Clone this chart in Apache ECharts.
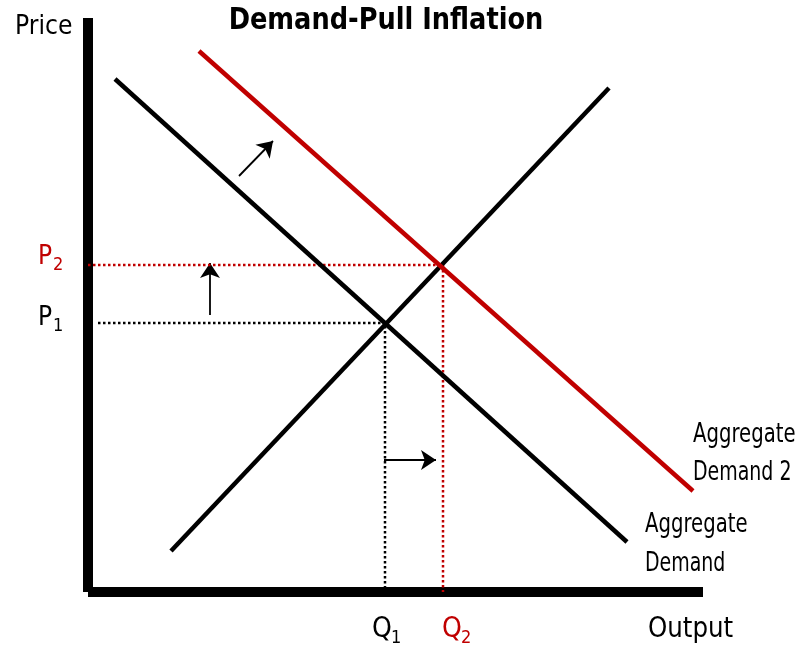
<!DOCTYPE html>
<html>
<head>
<meta charset="utf-8">
<script src="https://cdn.jsdelivr.net/npm/echarts@6/dist/echarts.min.js"></script>
<style>html,body{margin:0;padding:0;background:#fff}#c{width:808px;height:653px}</style>
</head>
<body>
<div id="c"></div>
<script>
// Abstract units: output (x) and price (y)
const aggregateDemand = [[27, 513], [539, 50]];
const aggregateDemand2 = [[111, 541], [605, 101]];
const aggregateSupply = [[83, 41], [521, 504]];
const priceLevels = [269, 327];      // P1, P2
const outputLevels = [297, 355];     // Q1, Q2
const p1Guide = [[10, priceLevels[0]], [outputLevels[0], priceLevels[0]], [outputLevels[0], 0]];
const p2Guide = [[0, priceLevels[1]], [outputLevels[1], priceLevels[1]], [outputLevels[1], 0]];
const shiftArrow = [[151, 416], [185, 451]];
const priceArrow = [[122, 277], [122, 329]];
const outputArrow = [[296, 132], [348, 132]];

const RED = '#c00000';
const FONT = "'Liberation Sans Narrow', 'DejaVu Sans Condensed', 'Noto Sans', sans-serif";

const chart = echarts.init(document.getElementById('c'));
const txt = (x, y, text, size, color, sx, align, weight) => ({
  type: 'text', x: x, y: y, z: 100, scaleX: sx || 1,
  style: { text: text, fontSize: size, fontFamily: FONT, fontWeight: weight || 'normal', fill: color || '#000', align: align || 'left', verticalAlign: 'top' }
});
chart.setOption({
  animation: false,
  backgroundColor: '#fff',
  grid: { left: 88, top: 18, right: 105, bottom: 61 },
  xAxis: { type: 'value', min: 0, max: 615, splitLine: { show: false }, axisTick: { show: false }, axisLabel: { show: false },
    axisLine: { show: true, lineStyle: { color: '#000', width: 10, cap: 'butt' } } },
  yAxis: { type: 'value', min: 0, max: 574, splitLine: { show: false }, axisTick: { show: false }, axisLabel: { show: false },
    axisLine: { show: true, lineStyle: { color: '#000', width: 10, cap: 'butt' } } },
  series: [
    { type: 'line', data: p1Guide, showSymbol: false, lineStyle: { color: '#000', width: 2.5, type: [2.5, 2.5] } },
    { type: 'line', data: p2Guide, showSymbol: false, lineStyle: { color: RED, width: 2.5, type: [2.5, 2.5] } },
    { type: 'line', data: aggregateDemand, showSymbol: false, lineStyle: { color: '#000', width: 4.5, cap: 'butt' } },
    { type: 'line', data: aggregateSupply, showSymbol: false, lineStyle: { color: '#000', width: 4.5, cap: 'butt' } },
    { type: 'line', data: aggregateDemand2, showSymbol: false, lineStyle: { color: RED, width: 4.5, cap: 'butt' } },
    { type: 'lines', coordinateSystem: 'cartesian2d', symbol: ['none', 'arrow'], symbolSize: 15,
      lineStyle: { color: '#000', width: 1.8, opacity: 1 },
      data: [{ coords: shiftArrow }, { coords: priceArrow }, { coords: outputArrow }] }
  ],
  graphic: [
    txt(386, 5, 'Demand-Pull Inflation', 31, '#000', 0.92, 'center', 'bold'),
    txt(15, 13, 'Price', 27, '#000', 0.97),
    txt(38, 244, 'P', 26, RED), txt(53, 256, '2', 18, RED),
    txt(38, 305, 'P', 26), txt(53, 317, '1', 18),
    txt(372, 616, 'Q', 28), txt(391, 629, '1', 18),
    txt(442, 616, 'Q', 28, RED), txt(461, 629, '2', 18, RED),
    txt(648, 615, 'Output', 29, '#000', 0.94),
    txt(693, 421, 'Aggregate', 27, '#000', 0.81),
    txt(693, 459, 'Demand 2', 27, '#000', 0.78),
    txt(645, 511, 'Aggregate', 27, '#000', 0.81),
    txt(645, 550, 'Demand', 27, '#000', 0.78)
  ]
});
</script>
</body>
</html>
